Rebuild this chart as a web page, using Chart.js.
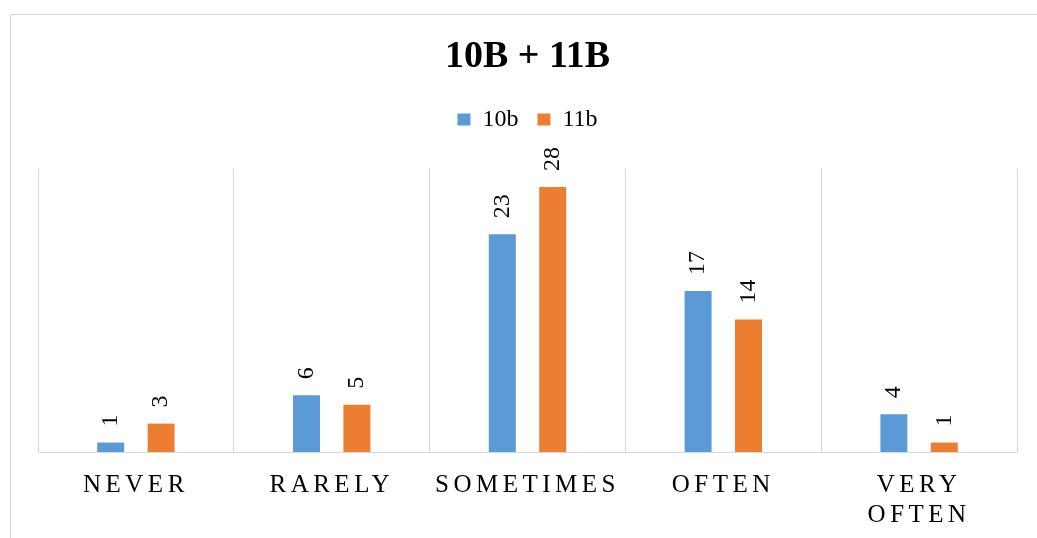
<!DOCTYPE html>
<html>
<head>
<meta charset="utf-8">
<script src="https://cdn.jsdelivr.net/npm/chart.js@4"></script>
<style>
  html, body { margin: 0; padding: 0; background: #fff; width: 1037px; height: 538px; overflow: hidden; }
  #frame { position: absolute; left: 10px; top: 14px; width: 1040px; height: 540px;
           border-top: 1px solid #d9d9d9; border-left: 1px solid #d9d9d9; }
  #c { position: absolute; left: 0; top: 0; }
</style>
</head>
<body>
<div id="frame"></div>
<canvas id="c" width="1037" height="538"></canvas>
<script>
const categories = ['NEVER', 'RARELY', 'SOMETIMES', 'OFTEN', ['VERY', 'OFTEN']];
const series10b = [1, 6, 23, 17, 4];
const series11b = [3, 5, 28, 14, 1];
const seriesNames = ['10b', '11b'];
const yMin = 0;
const yMax = 30;

const FONT = '"Liberation Serif", "Times New Roman", Times, serif';

const valueLabels = {
  id: 'valueLabels',
  afterDatasetsDraw(chart) {
    const ctx = chart.ctx;
    chart.data.datasets.forEach((ds, di) => {
      const meta = chart.getDatasetMeta(di);
      meta.data.forEach((bar, i) => {
        ctx.save();
        ctx.translate(bar.x, bar.y - 16);
        ctx.rotate(-Math.PI / 2);
        ctx.font = '24px ' + FONT;
        ctx.fillStyle = '#000';
        ctx.textAlign = 'left';
        ctx.textBaseline = 'middle';
        ctx.fillText(String(ds.data[i]), 0, 0);
        ctx.restore();
      });
    });
  }
};

const spacedTicks = {
  id: 'spacedTicks',
  beforeDraw(chart) {
    const s = chart.scales.x;
    if (s && !s._spaced) {
      const orig = s.drawLabels.bind(s);
      s.drawLabels = function (area) {
        chart.ctx.save();
        chart.ctx.letterSpacing = '4.5px';
        orig(area);
        chart.ctx.restore();
      };
      s._spaced = true;
    }
  }
};

new Chart(document.getElementById('c'), {
  type: 'bar',
  data: {
    labels: categories,
    datasets: [
      { label: seriesNames[0], data: series10b, backgroundColor: '#5B9BD5', categoryPercentage: 0.515, barPercentage: 0.535 },
      { label: seriesNames[1], data: series11b, backgroundColor: '#ED7D31', categoryPercentage: 0.515, barPercentage: 0.535 }
    ]
  },
  options: {
    responsive: false,
    devicePixelRatio: 1,
    animation: false,
    layout: { padding: { left: 38, right: 20, top: 0, bottom: 0 } },
    plugins: {
      title: {
        display: true,
        text: '10B + 11B',
        color: '#000',
        font: { family: FONT, size: 38, weight: 'bold', lineHeight: 1.2 },
        padding: { top: 34, bottom: 9 }
      },
      legend: {
        display: true,
        position: 'top',
        labels: {
          boxWidth: 13,
          boxHeight: 12,
          padding: 19,
          color: '#000',
          font: { family: FONT, size: 24 }
        }
      },
      tooltip: { enabled: false }
    },
    scales: {
      x: {
        position: 'bottom',
        grid: { display: true, color: '#d9d9d9', lineWidth: 1, drawTicks: false, offset: true },
        border: { display: true, color: '#d9d9d9', width: 1 },
        ticks: {
          color: '#000',
          font: { family: FONT, size: 25, lineHeight: 1.172 },
          padding: 19,
          maxRotation: 0,
          minRotation: 0,
          autoSkip: false
        },
        afterFit(s) { s.height = 86; }
      },
      xTop: {
        type: 'category',
        position: 'top',
        display: true,
        grid: { display: false },
        border: { display: false },
        ticks: { display: false },
        afterFit(s) { s.height = 26.5; }
      },
      y: {
        display: false,
        min: yMin,
        max: yMax
      }
    }
  },
  plugins: [valueLabels, spacedTicks]
});
</script>
</body>
</html>
